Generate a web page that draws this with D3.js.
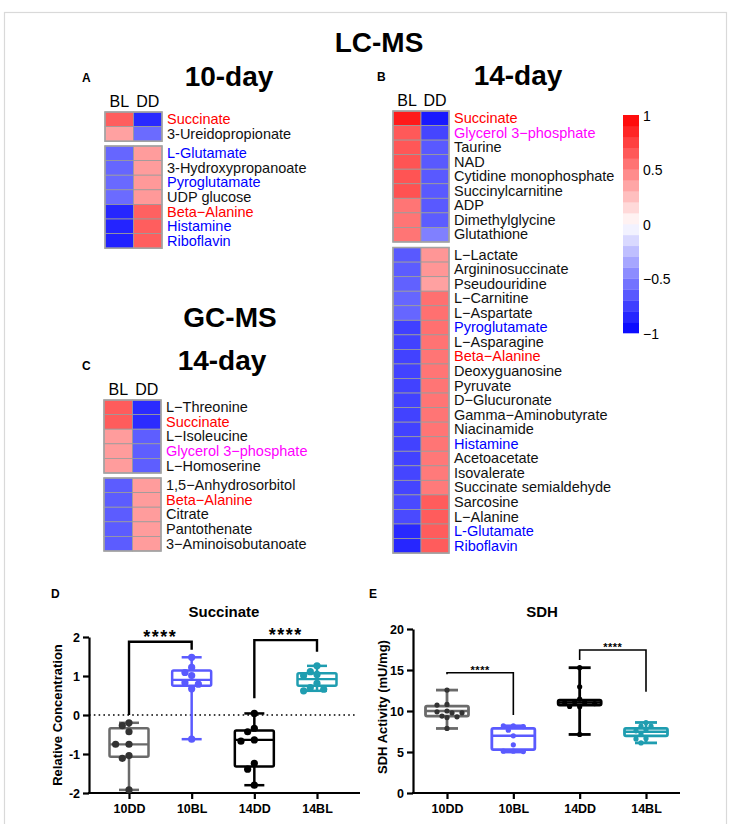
<!DOCTYPE html>
<html>
<head>
<meta charset="utf-8">
<script src="https://cdn.jsdelivr.net/npm/d3@7"></script>
<style>
  body { margin: 0; background: #fff; }
  svg { display: block; font-family: 'Liberation Sans', Arial, Helvetica, sans-serif; }
</style>
</head>
<body>
<svg id="fig" width="741" height="824"></svg>
<script>
// ---------------- heatmap data (row-scaled, BL / DD) ----------------
var hmCols = ['BL', 'DD'];

var lc10Names = ['Succinate', '3-Ureidopropionate', 'L-Glutamate', '3-Hydroxypropanoate',
  'Pyroglutamate', 'UDP glucose', 'Beta\u2212Alanine', 'Histamine', 'Riboflavin'];
var lc10BL = [0.63, 0.37, -0.6, -0.6, -0.59, -0.58, -0.85, -0.86, -0.87];
var lc10DD = [-0.84, -0.58, 0.39, 0.39, 0.4, 0.4, 0.62, 0.63, 0.63];
var lc10Split = 2;

var lc14Names = ['Succinate', 'Glycerol 3\u2212phosphate', 'Taurine', 'NAD', 'Cytidine monophosphate',
  'Succinylcarnitine', 'ADP', 'Dimethylglycine', 'Glutathione',
  'L\u2212Lactate', 'Argininosuccinate', 'Pseudouridine', 'L\u2212Carnitine', 'L\u2212Aspartate',
  'Pyroglutamate', 'L\u2212Asparagine', 'Beta\u2212Alanine', 'Deoxyguanosine', 'Pyruvate',
  'D\u2212Glucuronate', 'Gamma\u2212Aminobutyrate', 'Niacinamide', 'Histamine', 'Acetoacetate',
  'Isovalerate', 'Succinate semialdehyde', 'Sarcosine', 'L\u2212Alanine', 'L-Glutamate', 'Riboflavin'];
var lc14BL = [0.9, 0.65, 0.66, 0.67, 0.67, 0.68, 0.54, 0.54, 0.54,
  -0.65, -0.64, -0.62, -0.6, -0.6, -0.75, -0.74, -0.74, -0.74, -0.74,
  -0.74, -0.74, -0.74, -0.74, -0.74, -0.73, -0.73, -0.71, -0.71, -0.84, -0.85];
var lc14DD = [-0.9, -0.73, -0.65, -0.65, -0.65, -0.65, -0.65, -0.64, -0.5,
  0.41, 0.41, 0.37, 0.56, 0.56, 0.56, 0.55, 0.54, 0.54, 0.54,
  0.54, 0.54, 0.54, 0.54, 0.53, 0.52, 0.52, 0.64, 0.64, 0.64, 0.64];
var lc14Split = 9;

var gc14Names = ['L\u2212Threonine', 'Succinate', 'L\u2212Isoleucine', 'Glycerol 3\u2212phosphate',
  'L\u2212Homoserine', '1,5\u2212Anhydrosorbitol', 'Beta\u2212Alanine', 'Citrate', 'Pantothenate',
  '3\u2212Aminoisobutanoate'];
var gc14BL = [0.64, 0.64, 0.39, 0.39, 0.39, -0.64, -0.64, -0.64, -0.64, -0.64];
var gc14DD = [-0.83, -0.83, -0.63, -0.63, -0.63, 0.39, 0.39, 0.39, 0.39, 0.39];
var gc14Split = 5;

var redNames = ['Succinate', 'Beta\u2212Alanine'];
var blueNames = ['L-Glutamate', 'Pyroglutamate', 'Histamine', 'Riboflavin'];
var magentaNames = ['Glycerol 3\u2212phosphate'];

var legendTicks = [1, 0.5, 0, -0.5, -1];

// ---------------- box plot data ----------------
var groups = ['10DD', '10BL', '14DD', '14BL'];

// [min, q1, median, q3, max]
var succStats = [
  [-1.92, -1.07, -0.75, -0.34, -0.2],
  [-0.62, 0.75, 0.9, 1.14, 1.48],
  [-1.8, -1.32, -0.64, -0.4, 0.04],
  [0.62, 0.75, 0.92, 1.07, 1.26]
];
var succPoints = [
  [-0.2, -0.27, -0.43, -0.75, -0.75, -1.04, -1.11, -1.92],
  [1.48, 1.22, 1.09, 1.01, 0.83, 0.79, 0.67, -0.62],
  [0.04, -0.34, -0.43, -0.64, -0.67, -1.24, -1.39, -1.8],
  [1.26, 1.11, 1.04, 1.01, 0.81, 0.7, 0.66, 0.62]
];
// [from, to, top, left leg end, right leg end]
var succSig = [
  ['10DD', '10BL', 1.88, 0, 1.67],
  ['14DD', '14BL', 1.92, 0.43, 1.62]
];

var sdhStats = [
  [7.87, 9.38, 10.0, 10.6, 12.55],
  [5.0, 5.3, 6.97, 7.87, 8.19],
  [7.14, 10.72, 11.05, 11.33, 15.28],
  [6.11, 6.97, 7.46, 7.87, 8.6]
];
var sdhPoints = [
  [12.55, 10.8, 10.72, 10.0, 9.9, 9.78, 9.78, 9.38, 9.29, 9.2, 7.87],
  [8.19, 8.19, 8.1, 7.66, 6.97, 5.87, 5.1, 5.1, 5.05],
  [15.28, 12.96, 11.45, 11.1, 11.05, 11.0, 10.9, 10.51, 10.55, 7.14],
  [8.6, 8.15, 8.15, 7.75, 7.58, 7.18, 6.65, 6.6, 6.11]
];
var sdhSig = [
  ['10DD', '10BL', 14.67, 14.47, 9.5],
  ['14DD', '14BL', 17.44, 16.22, 12.35]
];

var groupColors = ['#6a6a6a', '#5a5aff', '#000000', '#1f9db0'];

// ---------------------------------------------------------------
var svg = d3.select('#fig');

svg.append('rect')
  .attr('x', 4.5)
  .attr('y', 12.5)
  .attr('width', 722)
  .attr('height', 830)
  .attr('fill', 'white')
  .attr('stroke', '#d9d9d9')
  .attr('stroke-width', 1.2);

var heatColor = d3.scaleLinear()
  .domain([-1, 0, 1])
  .range(['#0000ff', '#ffffff', '#ff0000']);

function labelColor(name) {
  if (redNames.indexOf(name) > -1) return '#ff0000';
  if (blueNames.indexOf(name) > -1) return '#0000ff';
  if (magentaNames.indexOf(name) > -1) return '#ff00ff';
  return '#111';
}

function bigTitle(txt, x, y) {
  svg.append('text')
    .attr('x', x)
    .attr('y', y)
    .attr('text-anchor', 'middle')
    .style('font-weight', 'bold')
    .style('font-size', '28px')
    .text(txt);
}

function panelLetter(txt, x, y) {
  svg.append('text')
    .attr('x', x)
    .attr('y', y)
    .style('font-weight', 'bold')
    .style('font-size', '12px')
    .text(txt);
}

function drawHeatmap(names, blVals, ddVals, split, opt) {
  var g = svg.append('g').attr('class', 'heatmap');
  var x = d3.scaleBand()
    .domain(hmCols)
    .range([opt.left, opt.left + 2 * opt.cellW]);
  var yRow = d3.scaleLinear()
    .domain([0, names.length])
    .range([opt.top, opt.top + names.length * opt.cellH]);
  function rowTop(i) {
    return yRow(i) + (i >= split ? opt.gap : 0);
  }

  g.selectAll('text.hm_col')
    .data(hmCols)
    .enter()
    .append('text')
    .attr('class', 'hm_col')
    .attr('x', function(d) { return x(d) + x.bandwidth() / 2; })
    .attr('y', opt.top - 5)
    .attr('text-anchor', 'middle')
    .style('font-size', '16px')
    .text(function(d) { return d; });

  var cells = [];
  names.forEach(function(n, i) {
    cells.push({row: i, col: 'BL', v: blVals[i]});
    cells.push({row: i, col: 'DD', v: ddVals[i]});
  });

  g.selectAll('rect.cell')
    .data(cells)
    .enter()
    .append('rect')
    .attr('class', 'cell')
    .attr('x', function(d) { return x(d.col); })
    .attr('y', function(d) { return rowTop(d.row); })
    .attr('width', x.bandwidth())
    .attr('height', opt.cellH)
    .attr('fill', function(d) { return heatColor(d.v); })
    .attr('stroke', '#9b9b9b')
    .attr('stroke-width', 0.8);

  // outline for each cluster block
  [[0, split], [split, names.length]].forEach(function(b) {
    g.append('rect')
      .attr('x', opt.left)
      .attr('y', rowTop(b[0]))
      .attr('width', 2 * opt.cellW)
      .attr('height', (b[1] - b[0]) * opt.cellH)
      .attr('fill', 'none')
      .attr('stroke', '#a3a3a3')
      .attr('stroke-width', 1.6);
  });

  g.selectAll('text.hm_row')
    .data(names)
    .enter()
    .append('text')
    .attr('class', 'hm_row')
    .attr('x', opt.left + 2 * opt.cellW + 5)
    .attr('y', function(d, i) { return rowTop(i) + opt.cellH / 2 + 4.8; })
    .attr('fill', labelColor)
    .style('font-size', '14.5px')
    .text(function(d) { return d; });
}

// titles
bigTitle('LC-MS', 379, 52);
bigTitle('10-day', 229, 86);
bigTitle('14-day', 518, 85);
bigTitle('GC-MS', 230, 327);
bigTitle('14-day', 222, 370);

panelLetter('A', 82, 82);
panelLetter('B', 377, 81);
panelLetter('C', 82, 370);
panelLetter('D', 51, 598);
panelLetter('E', 369, 598);

drawHeatmap(lc10Names, lc10BL, lc10DD, lc10Split, {left: 105, top: 112, cellW: 28.5, cellH: 14.6, gap: 4.8});
drawHeatmap(lc14Names, lc14BL, lc14DD, lc14Split, {left: 393, top: 111, cellW: 28, cellH: 14.55, gap: 5.6});
drawHeatmap(gc14Names, gc14BL, gc14DD, gc14Split, {left: 104, top: 400, cellW: 28.5, cellH: 14.6, gap: 5});

// colour key
var keyY = d3.scaleLinear().domain([-1, 1]).range([333, 115]);
var keyBands = d3.range(20).map(function(i) { return -1 + i * 0.1; });
svg.append('g')
  .selectAll('rect')
  .data(keyBands)
  .enter()
  .append('rect')
  .attr('x', 623)
  .attr('y', function(d) { return keyY(d + 0.1); })
  .attr('width', 16)
  .attr('height', function(d) { return keyY(d) - keyY(d + 0.1) + 0.3; })
  .attr('fill', function(d) { return heatColor(d + 0.05); });

svg.append('g')
  .selectAll('text')
  .data(legendTicks)
  .enter()
  .append('text')
  .attr('x', 643)
  .attr('y', function(d) { return keyY(d) + 5.5; })
  .style('font-size', '14px')
  .text(function(d) { return String(d).replace('-', '\u2212'); });

// ---------------- box plots ----------------
function swarmOffsets(vals, y, r, step) {
  var placed = [];
  return vals.map(function(v) {
    var py = y(v);
    var tries = [0];
    for (var k = 1; k < 8; k++) { tries.push(-k * step, k * step); }
    for (var t = 0; t < tries.length; t++) {
      var o = tries[t];
      var ok = placed.every(function(p) {
        return Math.hypot(p.x - o, p.y - py) >= 2 * r;
      });
      if (ok) {
        placed.push({x: o, y: py});
        return o;
      }
    }
    return 0;
  });
}

function drawBoxPanel(opt) {
  var g = svg.append('g');
  var x = opt.x, y = opt.y;
  var lw = opt.lineWidth;

  g.append('text')
    .attr('x', opt.titleX)
    .attr('y', 617)
    .attr('text-anchor', 'middle')
    .style('font-weight', 'bold')
    .style('font-size', '15px')
    .text(opt.title);

  // y axis
  var yAxis = g.append('g')
    .attr('transform', 'translate(' + opt.axisLeft + ',0)')
    .call(d3.axisLeft(y)
      .tickValues(opt.ticks)
      .tickFormat(function(d) { return String(d); })
      .tickSize(6)
      .tickSizeOuter(0)
      .tickPadding(3));
  yAxis.select('.domain').attr('stroke-width', 2.2);
  yAxis.selectAll('.tick line').attr('stroke-width', 2.2);
  yAxis.selectAll('.tick text')
    .style('font-family', "'Liberation Sans', Arial, sans-serif")
    .style('font-weight', 'bold')
    .style('font-size', '12.5px')
    .attr('fill', '#000');

  // x axis
  var base = y.range()[0];
  var xAxis = g.append('g')
    .attr('transform', 'translate(0,' + base + ')')
    .call(d3.axisBottom(x).tickSize(6).tickSizeOuter(0).tickPadding(5));
  xAxis.select('.domain').remove();
  xAxis.selectAll('.tick line').attr('stroke-width', 2.2);
  xAxis.selectAll('.tick text')
    .style('font-family', "'Liberation Sans', Arial, sans-serif")
    .style('font-weight', 'bold')
    .style('font-size', '12.5px')
    .attr('fill', '#000');
  g.append('line')
    .attr('x1', opt.axisLeft - 1)
    .attr('x2', opt.axisRight)
    .attr('y1', base)
    .attr('y2', base)
    .attr('stroke', '#000')
    .attr('stroke-width', 2.2);

  g.append('text')
    .attr('transform', 'translate(' + opt.yTitleX + ',' + opt.yTitleY + ') rotate(-90)')
    .attr('text-anchor', 'middle')
    .style('font-weight', 'bold')
    .style('font-size', '13px')
    .text(opt.yTitle);

  if (opt.zeroLine) {
    g.append('line')
      .attr('x1', opt.axisLeft)
      .attr('x2', opt.axisRight - 3)
      .attr('y1', y(0))
      .attr('y2', y(0))
      .attr('stroke', '#000')
      .attr('stroke-width', 1.6)
      .attr('stroke-dasharray', '1.6,3.2');
  }

  var bw = opt.boxWidth;
  groups.forEach(function(grp, i) {
    var s = opt.stats[i];
    var cx = x(grp);
    var col = groupColors[i];
    var bg = g.append('g');
    // whiskers
    bg.append('line')
      .attr('x1', cx).attr('x2', cx)
      .attr('y1', y(s[0])).attr('y2', y(s[1]))
      .attr('stroke', col).attr('stroke-width', lw);
    bg.append('line')
      .attr('x1', cx).attr('x2', cx)
      .attr('y1', y(s[3])).attr('y2', y(s[4]))
      .attr('stroke', col).attr('stroke-width', lw);
    [s[0], s[4]].forEach(function(v) {
      bg.append('line')
        .attr('x1', cx - opt.capWidth / 2).attr('x2', cx + opt.capWidth / 2)
        .attr('y1', y(v)).attr('y2', y(v))
        .attr('stroke', col).attr('stroke-width', lw);
    });
    bg.append('rect')
      .attr('x', cx - bw / 2)
      .attr('y', y(s[3]))
      .attr('width', bw)
      .attr('height', y(s[1]) - y(s[3]))
      .attr('fill', 'white')
      .attr('stroke', col)
      .attr('stroke-width', lw)
      .attr('rx', 1.5);
    bg.append('line')
      .attr('x1', cx - bw / 2).attr('x2', cx + bw / 2)
      .attr('y1', y(s[2])).attr('y2', y(s[2]))
      .attr('stroke', col).attr('stroke-width', lw * 0.9);

    var pts = opt.points[i];
    var offs = swarmOffsets(pts, y, opt.radius, opt.step);
    bg.selectAll('circle')
      .data(pts)
      .enter()
      .append('circle')
      .attr('cx', function(d, k) { return cx + offs[k]; })
      .attr('cy', function(d) { return y(d); })
      .attr('r', opt.radius)
      .attr('fill', i === 0 ? '#333' : col);
  });

  // significance brackets
  opt.sig.forEach(function(b) {
    var x1 = x(b[0]), x2 = x(b[1]);
    g.append('path')
      .attr('d', 'M' + x1 + ',' + y(b[3]) + 'V' + y(b[2]) + 'H' + x2 + 'V' + y(b[4]))
      .attr('fill', 'none')
      .attr('stroke', '#000')
      .attr('stroke-width', opt.sigWidth);
    g.append('text')
      .attr('x', (x1 + x2) / 2)
      .attr('y', y(b[2]) + opt.starDy)
      .attr('text-anchor', 'middle')
      .style('font-weight', 'bold')
      .style('font-size', opt.starSize)
      .style('letter-spacing', opt.starSpacing)
      .text('****');
  });
}

drawBoxPanel({
  title: 'Succinate', titleX: 224,
  x: d3.scalePoint().domain(groups).range([129, 317]),
  y: d3.scaleLinear().domain([-2, 2]).range([793, 637]),
  ticks: [-2, -1, 0, 1, 2],
  axisLeft: 89, axisRight: 360,
  yTitle: 'Relative Concentration', yTitleX: 62, yTitleY: 715,
  zeroLine: true,
  stats: succStats, points: succPoints, sig: succSig,
  boxWidth: 39, capWidth: 20, lineWidth: 2.5,
  radius: 3.6, step: 6.7,
  sigWidth: 2.4, starSize: '18px', starSpacing: '1.5px', starDy: 1
});

drawBoxPanel({
  title: 'SDH', titleX: 542,
  x: d3.scalePoint().domain(groups).range([447, 646]),
  y: d3.scaleLinear().domain([0, 20]).range([793, 629]),
  ticks: [0, 5, 10, 15, 20],
  axisLeft: 413, axisRight: 680,
  yTitle: 'SDH Activity (mU/mg)', yTitleX: 387, yTitleY: 707,
  zeroLine: false,
  stats: sdhStats, points: sdhPoints, sig: sdhSig,
  boxWidth: 43, capWidth: 22, lineWidth: 2.8,
  radius: 2.6, step: 5,
  sigWidth: 1.6, starSize: '11px', starSpacing: '0.5px', starDy: 1
});
</script>
</body>
</html>
